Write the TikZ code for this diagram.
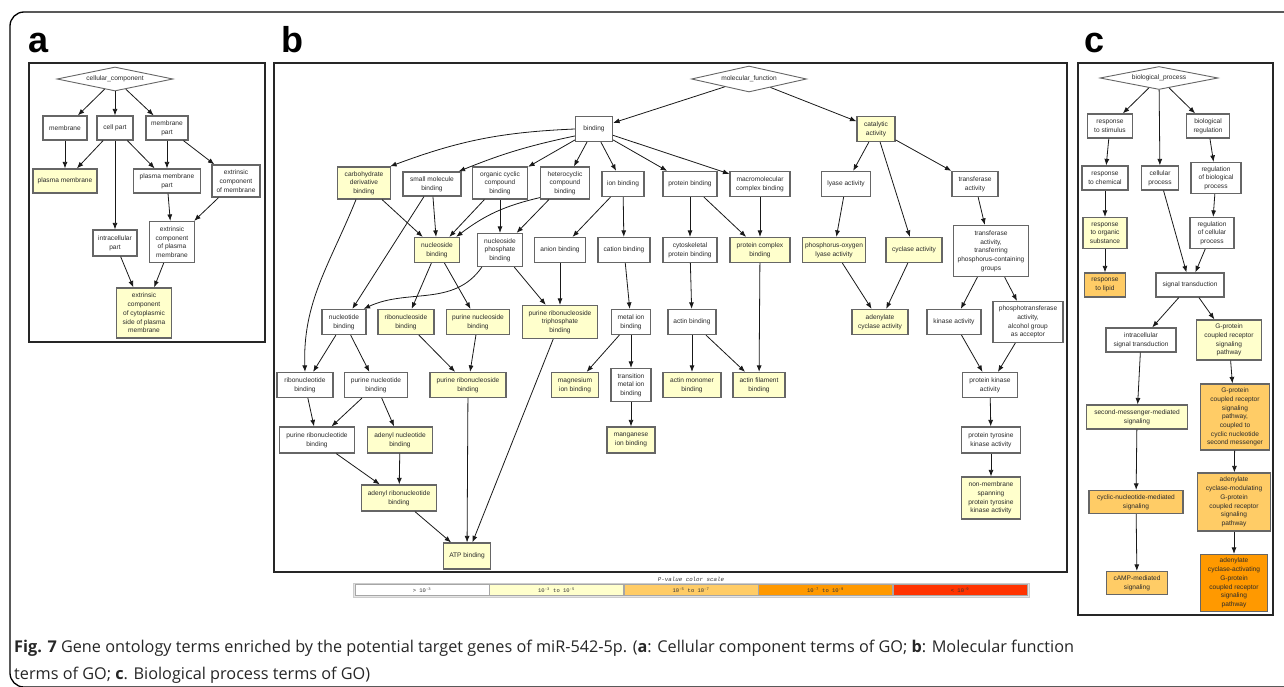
\documentclass[tikz,border=0pt]{standalone}
\usepackage{fontspec}
\setmainfont{Liberation Sans}
\newfontfamily\capfont{Open Sans}
\newfontfamily\monofont{Liberation Mono}
\usetikzlibrary{shapes.geometric,arrows.meta}
\definecolor{yel}{HTML}{FFFFCC}
\definecolor{lor}{HTML}{FFCC66}
\definecolor{ora}{HTML}{FF9900}
\definecolor{redc}{HTML}{FF3300}
\definecolor{txt}{HTML}{2A2A2A}
\begin{document}
\begin{tikzpicture}[x=1pt,y=-1pt,
  bx/.style={draw=black!60, line width=1.2pt, fill=white, font=\fontsize{6.6}{8.7}\selectfont, text=txt, align=center, inner xsep=1pt, inner ysep=2pt, minimum height=24pt},
  yl/.style={bx, fill=yel},
  lo/.style={bx, fill=lor},
  og/.style={bx, fill=ora},
  dm/.style={diamond, draw=black!60, line width=0.9pt, fill=white, font=\fontsize{6.6}{8.7}\selectfont, text=txt, inner sep=0pt, aspect=4.5},
  ar/.style={-{Latex[length=6.5pt,width=5pt]}, line width=0.8pt, black!90},
  pf/.style={draw=black!85, line width=1.4pt},
  lett/.style={anchor=base west, font=\fontsize{36}{36}\selectfont\bfseries, inner sep=0pt},
  sc/.style={draw=gray!70, line width=0.8pt, minimum height=11pt, inner sep=0pt, font=\monofont\fontsize{5.5}{6}\selectfont, text=black!80},
  capt/.style={anchor=base west, inner sep=0pt, font=\capfont\fontsize{16.25}{20}\selectfont, text=black!85}
]
\useasboundingbox (0,0) rectangle (1284,687);
\clip (0,0) rectangle (1284,687);
% outer frame
\draw[line width=1.3pt, rounded corners=14pt] (1300,12) -- (10,12) -- (10,687) -- (1300,687);

% panel frames
\draw[pf] (29,63) rectangle (265,342);
\draw[pf] (274,63) rectangle (1067,572);
\draw[pf] (1078,63) rectangle (1273,615);

\node[lett] (la) at (28,53) {a};
\node[lett] (lb) at (281,53) {b};
\node[lett] (lc) at (1084,53) {c};

% ---------- panel a ----------
\node[dm, minimum width=116pt, minimum height=24pt] (cc) at (115,79) {cellular\_component};
\node[bx, minimum width=44pt] (amem) at (65,128) {membrane};
\node[bx, minimum width=36pt] (acp) at (115,128) {cell part};
\node[bx, minimum width=42pt] (amp) at (167,128) {membrane\\part};
\node[yl, minimum width=64pt] (apm) at (65,181) {plasma membrane};
\node[bx, minimum width=67pt] (apmp) at (167,181) {plasma membrane\\part};
\node[bx, minimum width=48pt, minimum height=32pt] (aecm) at (236,181) {extrinsic\\component\\of membrane};
\node[bx, minimum width=44pt, minimum height=26pt] (aip) at (115,243) {intracellular\\part};
\node[bx, minimum width=45pt, minimum height=41pt] (aecpm) at (172,242) {extrinsic\\component\\of plasma\\membrane};
\node[yl, minimum width=55pt, minimum height=50pt] (aecc) at (144,313) {extrinsic\\component\\of cytoplasmic\\side of plasma\\membrane};

\draw[ar] (cc) -- (amem);
\draw[ar] (cc) -- (acp);
\draw[ar] (cc) -- (amp);
\draw[ar] (amem) -- (apm);
\draw[ar] (acp) -- (apm);
\draw[ar] (acp) -- (apmp);
\draw[ar] (acp) -- (aip);
\draw[ar] (amp) -- (apmp);
\draw[ar] (amp) -- (aecm);
\draw[ar] (apmp) -- (aecpm);
\draw[ar] (aecm) -- (aecpm);
\draw[ar] (aip) -- (aecc);
\draw[ar] (aecpm) -- (aecc);

% ---------- panel b ----------
\node[dm, minimum width=115pt, minimum height=26pt] (mf) at (749,79) {molecular\_function};
\node[bx, minimum width=37pt, minimum height=25pt] (bind) at (594,129) {binding};
\node[yl, minimum width=38pt, minimum height=25pt] (cat) at (876,129) {catalytic\\activity};
\node[yl, minimum width=53pt, minimum height=32pt] (carb) at (364,183) {carbohydrate\\derivative\\binding};
\node[bx, minimum width=58pt] (smb) at (432,184) {small molecule\\binding};
\node[bx, minimum width=55pt, minimum height=32pt] (ocb) at (500,183) {organic cyclic\\compound\\binding};
\node[bx, minimum width=49pt, minimum height=32pt] (hcb) at (565,183) {heterocyclic\\compound\\binding};
\node[bx, minimum width=42pt, minimum height=25pt] (ionb) at (623,184) {ion binding};
\node[bx, minimum width=54pt, minimum height=25pt] (protb) at (690,184) {protein binding};
\node[bx, minimum width=60pt, minimum height=25pt] (macb) at (760,184) {macromolecular\\complex binding};
\node[bx, minimum width=49pt, minimum height=25pt] (lya) at (846,184) {lyase activity};
\node[bx, minimum width=46pt, minimum height=25pt] (trf) at (975,184) {transferase\\activity};

\node[yl, minimum width=45pt, minimum height=25pt] (nsb) at (437,250) {nucleoside\\binding};
\node[bx, minimum width=45pt, minimum height=33pt] (npb) at (500,250) {nucleoside\\phosphate\\binding};
\node[bx, minimum width=51pt, minimum height=25pt] (anb) at (560,250) {anion binding};
\node[bx, minimum width=52pt, minimum height=25pt] (catb) at (624,250) {cation binding};
\node[bx, minimum width=54pt, minimum height=25pt] (cyt) at (690,250) {cytoskeletal\\protein binding};
\node[yl, minimum width=60pt, minimum height=25pt] (pcb) at (760,250) {protein complex\\binding};
\node[yl, minimum width=63pt, minimum height=25pt] (pol) at (834,250) {phosphorus-oxygen\\lyase activity};
\node[yl, minimum width=56pt, minimum height=25pt] (cyc) at (914,250) {cyclase activity};
\node[bx, minimum width=75pt, minimum height=51pt] (trp) at (991,251) {transferase\\activity,\\transferring\\phosphorus-containing\\groups};

\node[bx, minimum width=44pt, minimum height=25pt] (ntb) at (344,322) {nucleotide\\binding};
\node[yl, minimum width=56pt, minimum height=25pt] (rnsb) at (406,322) {ribonucleoside\\binding};
\node[yl, minimum width=63pt, minimum height=25pt] (pnsb) at (478,322) {purine nucleoside\\binding};
\node[yl, minimum width=75pt, minimum height=33pt] (prt) at (560,322) {purine ribonucleoside\\triphosphate\\binding};
\node[bx, minimum width=39pt, minimum height=25pt] (mib) at (631,322) {metal ion\\binding};
\node[bx, minimum width=48pt, minimum height=25pt] (acb) at (692,322) {actin binding};
\node[yl, minimum width=56pt, minimum height=25pt] (adc) at (880,322) {adenylate\\cyclase activity};
\node[bx, minimum width=54pt, minimum height=25pt] (kin) at (954,322) {kinase activity};
\node[bx, minimum width=70pt, minimum height=41pt] (pht) at (1028,322) {phosphotransferase\\activity,\\alcohol group\\as acceptor};

\node[bx, minimum width=56pt, minimum height=25pt] (rntb) at (305,385) {ribonucleotide\\binding};
\node[bx, minimum width=63pt, minimum height=25pt] (pntb) at (376,385) {purine nucleotide\\binding};
\node[yl, minimum width=76pt, minimum height=25pt] (prnsb) at (468,385) {purine ribonucleoside\\binding};
\node[yl, minimum width=47pt, minimum height=25pt] (mgb) at (575,385) {magnesium\\ion binding};
\node[bx, minimum width=40pt, minimum height=33pt] (tmb) at (631,385) {transition\\metal ion\\binding};
\node[yl, minimum width=58pt, minimum height=25pt] (amb) at (692,385) {actin monomer\\binding};
\node[yl, minimum width=52pt, minimum height=25pt] (afb) at (759,385) {actin filament\\binding};
\node[bx, minimum width=55pt, minimum height=25pt] (pka) at (990,385) {protein kinase\\activity};

\node[bx, minimum width=75pt, minimum height=26pt] (prntb) at (317,440) {purine ribonucleotide\\binding};
\node[yl, minimum width=65pt, minimum height=26pt] (adnb) at (400,440) {adenyl nucleotide\\binding};
\node[yl, minimum width=48pt, minimum height=26pt] (mnb) at (631,440) {manganese\\ion binding};
\node[bx, minimum width=59pt, minimum height=26pt] (ptk) at (991,440) {protein tyrosine\\kinase activity};

\node[yl, minimum width=75pt, minimum height=26pt] (adrb) at (399,498) {adenyl ribonucleotide\\binding};
\node[yl, minimum width=59pt, minimum height=42pt] (nmp) at (991,498) {non-membrane\\spanning\\protein tyrosine\\kinase activity};
\node[yl, minimum width=47pt, minimum height=26pt] (atp) at (467,556) {ATP binding};

\draw[ar] (mf) -- (bind);
\draw[ar] (mf) -- (cat);
\draw[ar] (bind.west) to[bend right=9] ([xshift=-1pt]carb.north east);
\draw[ar] (bind.200) to[bend right=5] ([xshift=-3pt]smb.north east);
\draw[ar] (bind) -- (ocb);
\draw[ar] (bind) -- (hcb);
\draw[ar] (bind) -- (ionb);
\draw[ar] (bind) -- (protb);
\draw[ar] (bind) -- (macb);
\draw[ar] (cat) -- (lya);
\draw[ar] (cat) -- (cyc);
\draw[ar] (cat) -- (trf);
\draw[ar] (carb) -- (nsb);
\draw[ar] ([xshift=-8pt]carb.south) to[out=-112,in=92] (rntb.north);
\draw[ar] (smb) -- (nsb);
\draw[ar] (smb) -- (ntb);
\draw[ar] (ocb) -- (nsb);
\draw[ar] (ocb) -- (npb);
\draw[ar] ([yshift=2pt]hcb.south west) to[bend right=12] ([xshift=-4pt]nsb.north east);
\draw[ar] (hcb) -- (npb);
\draw[ar] (ionb) -- (anb);
\draw[ar] (ionb) -- (catb);
\draw[ar] (protb) -- (cyt);
\draw[ar] (protb) -- (pcb);
\draw[ar] (macb) -- (pcb);
\draw[ar] (lya) -- (pol);
\draw[ar] (trf) -- (trp);
\draw[ar] (nsb) -- (rnsb);
\draw[ar] (nsb) -- (pnsb);
\draw[ar] ([xshift=5pt]npb.south west) to[out=-125,in=25] ([xshift=-3pt]ntb.north east);
\draw[ar] (npb) -- (prt);
\draw[ar] (anb) -- (prt);
\draw[ar] (catb) -- (mib);
\draw[ar] (cyt) -- (acb);
\draw[ar] (pcb) -- (afb);
\draw[ar] (pol) -- (adc);
\draw[ar] (cyc) -- (adc);
\draw[ar] (trp) -- (kin);
\draw[ar] (trp) -- (pht);
\draw[ar] (ntb) -- (rntb);
\draw[ar] (ntb) -- (pntb);
\draw[ar] (rnsb) -- (prnsb);
\draw[ar] (pnsb) -- (prnsb);
\draw[ar] (prt) -- (atp);
\draw[ar] (mib) -- (mgb);
\draw[ar] (mib) -- (tmb);
\draw[ar] (acb) -- (amb);
\draw[ar] (acb) -- (afb);
\draw[ar] (kin) -- (pka);
\draw[ar] (pht) -- (pka);
\draw[ar] (rntb) -- (prntb);
\draw[ar] (pntb) -- (prntb);
\draw[ar] (pntb) -- (adnb);
\draw[ar] (prnsb) -- (atp);
\draw[ar] (tmb) -- (mnb);
\draw[ar] (pka) -- (ptk);
\draw[ar] (ptk) -- (nmp);
\draw[ar] (prntb) -- (adrb);
\draw[ar] (adnb) -- (adrb);
\draw[ar] (adrb) -- (atp);

% ---------- panel c ----------
\node[dm, minimum width=118pt, minimum height=23pt] (bp) at (1159,78) {biological\_process};
\node[bx, minimum width=45pt] (rst) at (1110,126) {response\\to stimulus};
\node[bx, minimum width=43pt] (breg) at (1208,126) {biological\\regulation};
\node[bx, minimum width=46pt] (rch) at (1105,178) {response\\to chemical};
\node[bx, minimum width=37pt] (cp) at (1160,178) {cellular\\process};
\node[bx, minimum width=50pt, minimum height=31pt] (rbp) at (1216,178) {regulation\\of biological\\process};
\node[yl, minimum width=44pt, minimum height=31pt] (ros) at (1105,233) {response\\to organic\\substance};
\node[bx, minimum width=44pt, minimum height=31pt] (rcp) at (1212,233) {regulation\\of cellular\\process};
\node[lo, minimum width=41pt] (rlip) at (1105,285) {response\\to lipid};
\node[bx, minimum width=68pt] (st) at (1190,285) {signal transduction};
\node[bx, minimum width=70pt] (ist) at (1141,340) {intracellular\\signal transduction};
\node[yl, minimum width=65pt, minimum height=40pt] (gp) at (1229,340) {G-protein\\coupled receptor\\signaling\\pathway};
\node[yl, minimum width=101pt] (smm) at (1137,417) {second-messenger-mediated\\signaling};
\node[lo, minimum width=69pt, minimum height=66pt] (gpc) at (1235,417) {G-protein\\coupled receptor\\signaling\\pathway,\\coupled to\\cyclic nucleotide\\second messenger};
\node[lo, minimum width=94pt, minimum height=23pt] (cnm) at (1136,502) {cyclic-nucleotide-mediated\\signaling};
\node[lo, minimum width=73pt, minimum height=58pt] (acm) at (1234,502) {adenylate\\cyclase-modulating\\G-protein\\coupled receptor\\signaling\\pathway};
\node[lo, minimum width=61pt, minimum height=23pt] (camp) at (1137,583) {cAMP-mediated\\signaling};
\node[og, minimum width=67pt, minimum height=57pt] (aca) at (1234,583) {adenylate\\cyclase-activating\\G-protein\\coupled receptor\\signaling\\pathway};

\draw[ar] (bp) -- (rst);
\draw[ar] (bp) -- (cp);
\draw[ar] (bp) -- (breg);
\draw[ar] (rst) -- (rch);
\draw[ar] (rch) -- (ros);
\draw[ar] (ros) -- (rlip);
\draw[ar] (breg) -- (rbp);
\draw[ar] (rbp) -- (rcp);
\draw[ar] (rcp) -- (st);
\draw[ar] (cp) -- (st);
\draw[ar] (st) -- (ist);
\draw[ar] (st) -- (gp);
\draw[ar] (ist) -- (smm);
\draw[ar] (smm) -- (cnm);
\draw[ar] (cnm) -- (camp);
\draw[ar] (gp) -- (gpc);
\draw[ar] (gpc) -- (acm);
\draw[ar] (acm) -- (aca);

% ---------- colour scale ----------
\node[font=\monofont\itshape\fontsize{5.8}{6}\selectfont, text=black!80, inner sep=0pt] (sct) at (691,579) {P-value color scale};
\draw[draw=gray!40, fill=gray!20, line width=0.8pt] (353,583) rectangle (1029,597);
\node[sc, fill=white, minimum width=134pt] (s1) at (422,590) {> 10\textsuperscript{-3}};
\node[sc, fill=yel, minimum width=134pt] (s2) at (556.5,590) {10\textsuperscript{-3} to 10\textsuperscript{-5}};
\node[sc, fill=lor, minimum width=134pt] (s3) at (691,590) {10\textsuperscript{-5} to 10\textsuperscript{-7}};
\node[sc, fill=ora, minimum width=134pt] (s4) at (825.5,590) {10\textsuperscript{-7} to 10\textsuperscript{-9}};
\node[sc, fill=redc, minimum width=134pt] (s5) at (960,590) {< 10\textsuperscript{-9}};

% ---------- caption ----------
\node[capt] (cap1) at (14,652) {\textbf{Fig. 7} Gene ontology terms enriched by the potential target genes of miR-542-5p. (\textbf{a}: Cellular component terms of GO; \textbf{b}: Molecular function};
\node[capt] (cap2) at (14,679) {terms of GO; \textbf{c}. Biological process terms of GO)};
\end{tikzpicture}
\end{document}
